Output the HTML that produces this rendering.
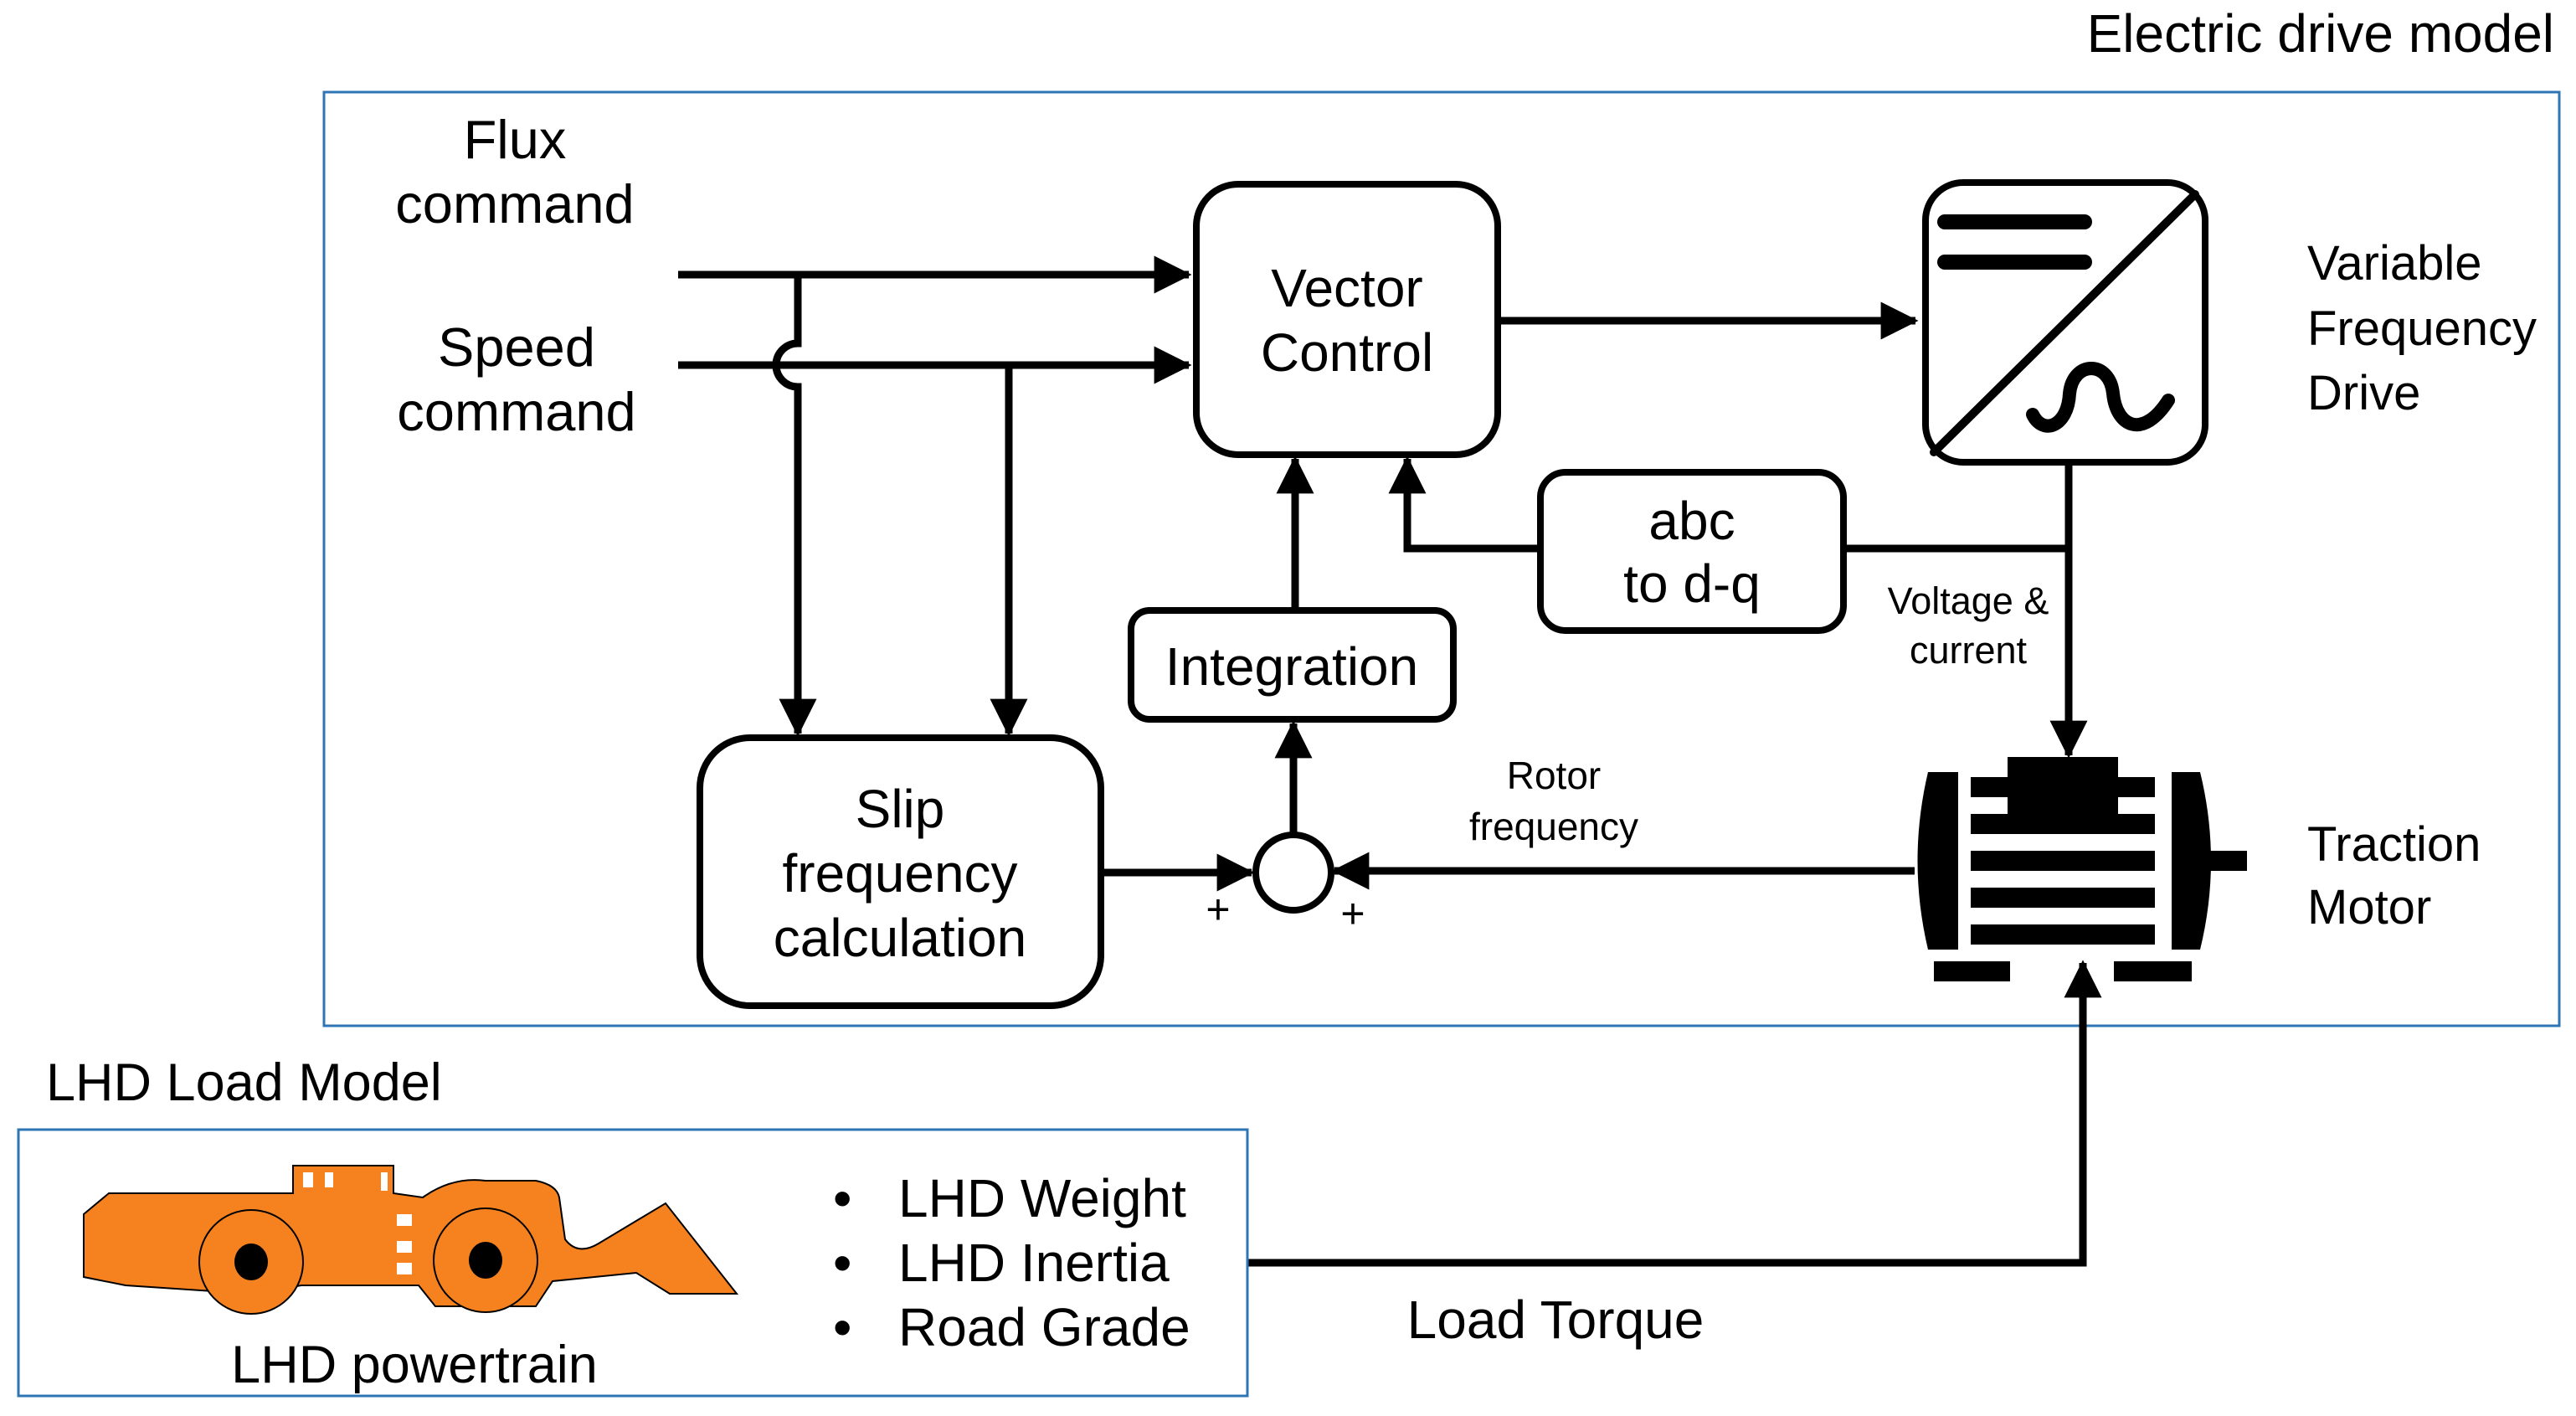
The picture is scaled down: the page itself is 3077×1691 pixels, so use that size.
<!DOCTYPE html>
<html><head><meta charset="utf-8"><style>
html,body{margin:0;padding:0;background:#fff;}
svg{display:block;}
text{font-family:"Liberation Sans",Arial,sans-serif;fill:#000;}
</style></head><body>
<svg width="3077" height="1691" viewBox="0 0 3077 1691" xmlns="http://www.w3.org/2000/svg">
<defs>
<marker id="ah" markerWidth="5" markerHeight="5" refX="4.6" refY="2.5" orient="auto" markerUnits="strokeWidth">
<path d="M0,0 L5,2.5 L0,5 z" fill="#000"/>
</marker>
</defs>
<text x="3051" y="62" font-size="64" text-anchor="end">Electric drive model</text>
<rect x="387" y="110" width="2670" height="1115" fill="none" stroke="#2e75b6" stroke-width="3"/>

<text x="615" y="189" font-size="65" text-anchor="middle">Flux</text>
<text x="615" y="266" font-size="65" text-anchor="middle">command</text>
<text x="617" y="437" font-size="65" text-anchor="middle">Speed</text>
<text x="617" y="514" font-size="65" text-anchor="middle">command</text>

<g fill="none" stroke="#000" stroke-width="9">
<line x1="810" y1="328" x2="1420" y2="328" marker-end="url(#ah)"/>
<line x1="810" y1="436" x2="1420" y2="436" marker-end="url(#ah)"/>
<path d="M953 328 V410 A26 26 0 0 0 953 462 V876" marker-end="url(#ah)"/>
<line x1="1205" y1="436" x2="1205" y2="876" marker-end="url(#ah)"/>
<line x1="1789" y1="383" x2="2288" y2="383" marker-end="url(#ah)"/>
<line x1="2471" y1="556" x2="2471" y2="902" marker-end="url(#ah)"/>
<line x1="2202" y1="655" x2="2471" y2="655"/>
<path d="M1840 655 H1681 V548" marker-end="url(#ah)"/>
<line x1="1547" y1="729" x2="1547" y2="548" marker-end="url(#ah)"/>
<line x1="1545" y1="997" x2="1545" y2="864" marker-end="url(#ah)"/>
<line x1="1315" y1="1042" x2="1495" y2="1042" marker-end="url(#ah)"/>
<line x1="2287" y1="1040" x2="1594" y2="1040" marker-end="url(#ah)"/>
<path d="M1490 1508 H2488 V1150" marker-end="url(#ah)"/>
</g>

<g fill="#fff" stroke="#000" stroke-width="8">
<rect x="1429" y="220" width="360" height="323" rx="50"/>
<rect x="2300" y="218" width="334" height="334" rx="45"/>
<rect x="1840" y="564" width="362" height="189" rx="30"/>
<rect x="1351" y="729" width="385" height="130" rx="22"/>
<rect x="836" y="881" width="479" height="320" rx="60"/>
<circle cx="1545" cy="1042" r="45"/>
</g>
<g stroke="#000" stroke-linecap="round" fill="none">
<line x1="2323" y1="265" x2="2490" y2="265" stroke-width="18"/>
<line x1="2323" y1="313" x2="2490" y2="313" stroke-width="18"/>
<line x1="2310" y1="540" x2="2622" y2="232" stroke-width="10"/>
<path d="M2428 495 C2440 520 2470 510 2472 470 C2476 430 2520 430 2524 470 C2528 510 2560 525 2590 478" stroke-width="16"/>
</g>

<text x="1609" y="366" font-size="64" text-anchor="middle">Vector</text>
<text x="1609" y="443" font-size="64" text-anchor="middle">Control</text>
<text x="2021" y="644" font-size="64" text-anchor="middle">abc</text>
<text x="2021" y="719" font-size="64" text-anchor="middle">to d-q</text>
<text x="1543" y="818" font-size="64" text-anchor="middle">Integration</text>
<text x="1075" y="988" font-size="64" text-anchor="middle">Slip</text>
<text x="1075" y="1065" font-size="64" text-anchor="middle">frequency</text>
<text x="1075" y="1142" font-size="64" text-anchor="middle">calculation</text>
<text x="1455" y="1103" font-size="50" text-anchor="middle">+</text>
<text x="1616" y="1108" font-size="50" text-anchor="middle">+</text>

<text x="2351" y="733" font-size="45" text-anchor="middle">Voltage &amp;</text>
<text x="2351" y="792" font-size="45" text-anchor="middle">current</text>
<text x="1856" y="942" font-size="46" text-anchor="middle">Rotor</text>
<text x="1856" y="1003" font-size="46" text-anchor="middle">frequency</text>

<text x="2756" y="334" font-size="58">Variable</text>
<text x="2756" y="412" font-size="58">Frequency</text>
<text x="2756" y="489" font-size="58">Drive</text>
<text x="2756" y="1028" font-size="58">Traction</text>
<text x="2756" y="1103" font-size="58">Motor</text>

<g fill="#000">
<rect x="2398" y="904" width="132" height="68"/>
<rect x="2354" y="928" width="220" height="24"/>
<rect x="2354" y="972" width="220" height="24"/>
<rect x="2354" y="1016" width="220" height="24"/>
<rect x="2354" y="1060" width="220" height="24"/>
<rect x="2354" y="1104" width="220" height="24"/>
<path d="M2303 922 H2339 V1134 H2303 Q2278 1028 2303 922 z"/>
<path d="M2594 922 H2628 Q2654 1028 2628 1134 H2594 z"/>
<rect x="2640" y="1016" width="44" height="24"/>
<rect x="2310" y="1148" width="91" height="24"/>
<rect x="2525" y="1148" width="93" height="24"/>
</g>

<text x="55" y="1314" font-size="63">LHD Load Model</text>
<rect x="22" y="1349" width="1468" height="318" fill="none" stroke="#2e75b6" stroke-width="3"/>

<g stroke="#000" stroke-width="2" fill="#f6821f">
<path d="M130 1425 H350 V1392 H470 V1425 L505 1430 Q540 1405 580 1410 L640 1410 Q665 1415 668 1430 L675 1480 Q690 1500 715 1485 L795 1437 L880 1545 L800 1545 L760 1520 L660 1530 L640 1560 L520 1560 L500 1535 L360 1535 L300 1545 L150 1535 L100 1525 L100 1450 z"/>
<circle cx="300" cy="1507" r="62"/>
<circle cx="580" cy="1505" r="62"/>
</g>
<g fill="#fff">
<rect x="362" y="1400" width="12" height="18"/>
<rect x="388" y="1400" width="10" height="18"/>
<rect x="455" y="1400" width="8" height="22"/>
<rect x="474" y="1450" width="18" height="14"/>
<rect x="474" y="1482" width="18" height="14"/>
<rect x="474" y="1508" width="18" height="14"/>
</g>
<ellipse cx="300" cy="1507" rx="20" ry="22" fill="#000"/>
<ellipse cx="580" cy="1505" rx="20" ry="22" fill="#000"/>
<text x="495" y="1651" font-size="63" text-anchor="middle">LHD powertrain</text>

<g font-size="64">
<text x="995" y="1453">•</text>
<text x="1073" y="1453">LHD Weight</text>
<text x="995" y="1530">•</text>
<text x="1073" y="1530">LHD Inertia</text>
<text x="995" y="1607">•</text>
<text x="1073" y="1607">Road Grade</text>
</g>
<text x="1858" y="1598" font-size="64" text-anchor="middle">Load Torque</text>
</svg>
</body></html>
